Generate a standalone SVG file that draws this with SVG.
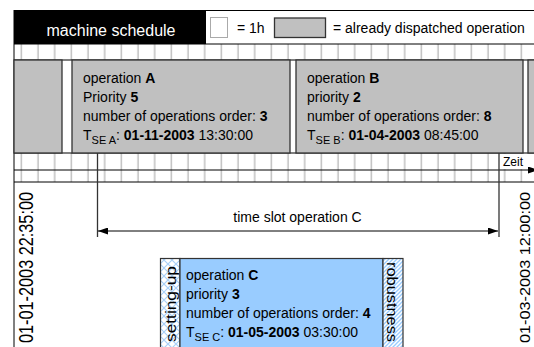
<svg xmlns="http://www.w3.org/2000/svg" width="534" height="347" viewBox="0 0 534 347">
<defs>
<style>
text { font-family: "Liberation Sans", Arial, sans-serif; fill: #000; font-size: 14px; }
.b { font-weight: bold; }
.sub { font-size: 11px; }
.op { fill: #c0c0c0; stroke: #333; stroke-width: 1.3; }
.hl { stroke: #000; stroke-width: 1; fill: none; }
.vl { stroke: #333; stroke-width: 1.3; fill: none; }
.opc { stroke: #333; stroke-width: 1.2; }
</style>
<pattern id="vgrid" x="13.33" y="0" width="16.667" height="10" patternUnits="userSpaceOnUse">
  <line x1="8" y1="0" x2="8" y2="10" stroke="#a0a0a0" stroke-width="1"/>
</pattern>
<pattern id="cross" width="8" height="8" patternUnits="userSpaceOnUse">
  <rect width="8" height="8" fill="#fff"/>
  <path d="M0,0 L8,8 M8,0 L0,8" stroke="#a8d0f8" stroke-width="1.2"/>
</pattern>
<pattern id="diag" width="4" height="4" patternUnits="userSpaceOnUse">
  <rect width="4" height="4" fill="#fff"/>
  <path d="M-1,1 L1,-1 M0,4 L4,0 M3,5 L5,3" stroke="#99ccff" stroke-width="1.3"/>
</pattern>
<marker id="arr" viewBox="0 0 10 7" refX="10" refY="3.5" markerWidth="10" markerHeight="7" orient="auto-start-reverse" markerUnits="userSpaceOnUse">
  <path d="M0,0 L10,3.5 L0,7 z" fill="#000"/>
</marker>
</defs>

<rect width="534" height="347" fill="#fff"/>

<g id="schedule-grid">
  <rect x="14" y="44" width="520" height="16" fill="url(#vgrid)"/>
  <rect x="14" y="153" width="520" height="29" fill="url(#vgrid)"/>
  <line class="hl" x1="14" y1="60" x2="534" y2="60" stroke="#888"/>
  <line class="hl" x1="14" y1="153" x2="534" y2="153"/>
  <line class="hl" x1="14" y1="182" x2="534" y2="182" stroke-width="2"/>
  <line class="hl" x1="14" y1="10.5" x2="534" y2="10.5"/>
  <line class="hl" x1="14" y1="44" x2="534" y2="44"/>
  <line class="hl" x1="14" y1="10" x2="14" y2="347" stroke-width="1.5"/>
</g>

<g id="header">
  <rect x="14" y="10" width="192" height="34" fill="#000"/>
  <text x="111" y="35.5" text-anchor="middle" style="fill:#fff;font-size:16px">machine schedule</text>
  <rect x="210.5" y="17.5" width="17" height="20" fill="#fff" stroke="#aaa"/>
  <text x="237" y="33">= 1h</text>
  <rect x="274.5" y="18" width="51" height="19.5" class="op"/>
  <text x="333" y="33">= already dispatched operation</text>
</g>

<g id="op-prev">
  <rect class="op" x="14" y="60" width="48" height="93"/>
</g>

<g id="op-A">
  <rect class="op" x="72" y="60" width="218" height="93"/>
  <text x="83" y="83">operation <tspan class="b">A</tspan></text>
  <text x="83" y="102">Priority <tspan class="b">5</tspan></text>
  <text x="83" y="121">number of operations order: <tspan class="b">3</tspan></text>
  <text x="83" y="140">T<tspan class="sub" dy="4">SE A</tspan><tspan dy="-4">: </tspan><tspan class="b">01-11-2003</tspan> 13:30:00</text>
</g>

<g id="op-B">
  <rect class="op" x="296" y="60" width="227" height="93"/>
  <text x="307" y="83">operation <tspan class="b">B</tspan></text>
  <text x="307" y="102">priority <tspan class="b">2</tspan></text>
  <text x="307" y="121">number of operations order: <tspan class="b">8</tspan></text>
  <text x="307" y="140">T<tspan class="sub" dy="4">SE B</tspan><tspan dy="-4">: </tspan><tspan class="b">01-04-2003</tspan> 08:45:00</text>
</g>

<g id="op-next">
  <rect class="op" x="528" y="60" width="12" height="93"/>
</g>

<g id="time-axis">
  <rect x="501" y="154" width="24" height="15" fill="#fff"/>
  <text x="503" y="166" style="font-size:12px">Zeit</text>
</g>

<g id="date-start">
  <text transform="translate(33,343) rotate(-90)" style="font-size:20px" textLength="151" lengthAdjust="spacingAndGlyphs">01-01-2003 22:35:00</text>
</g>
<g id="date-end">
  <text transform="translate(530,343) rotate(-90)" style="font-size:15px" textLength="151" lengthAdjust="spacingAndGlyphs">01-03-2003 12:00:00</text>
</g>

<g id="op-C">
  <rect class="opc" x="160.5" y="258.5" width="19.5" height="100" fill="url(#cross)"/>
  <text transform="translate(176,342) rotate(-90)" textLength="76" lengthAdjust="spacingAndGlyphs">setting-up</text>
  <rect class="opc" x="180" y="258.5" width="203" height="100" fill="#99ccff"/>
  <rect class="opc" x="383" y="258.5" width="20" height="100" fill="url(#diag)"/>
  <text transform="translate(386.5,262) rotate(90)" style="font-size:15px" textLength="80" lengthAdjust="spacingAndGlyphs">robustness</text>
  <text x="186" y="280">operation <tspan class="b">C</tspan></text>
  <text x="186" y="299">priority <tspan class="b">3</tspan></text>
  <text x="186" y="318">number of operations order: <tspan class="b">4</tspan></text>
  <text x="186" y="337">T<tspan class="sub" dy="4">SE C</tspan><tspan dy="-4">: </tspan><tspan class="b">01-05-2003</tspan> 03:30:00</text>
</g>

<g id="connectors">
  <line class="hl" x1="14" y1="170" x2="538" y2="170" marker-end="url(#arr)"/>
  <line class="vl" x1="97.5" y1="153" x2="97.5" y2="237"/>
  <line class="vl" x1="499" y1="153" x2="499" y2="237"/>
  <line class="hl" x1="98" y1="231" x2="498" y2="231" marker-start="url(#arr)" marker-end="url(#arr)"/>
  <text x="297.5" y="222" text-anchor="middle">time slot operation C</text>
</g>
</svg>
